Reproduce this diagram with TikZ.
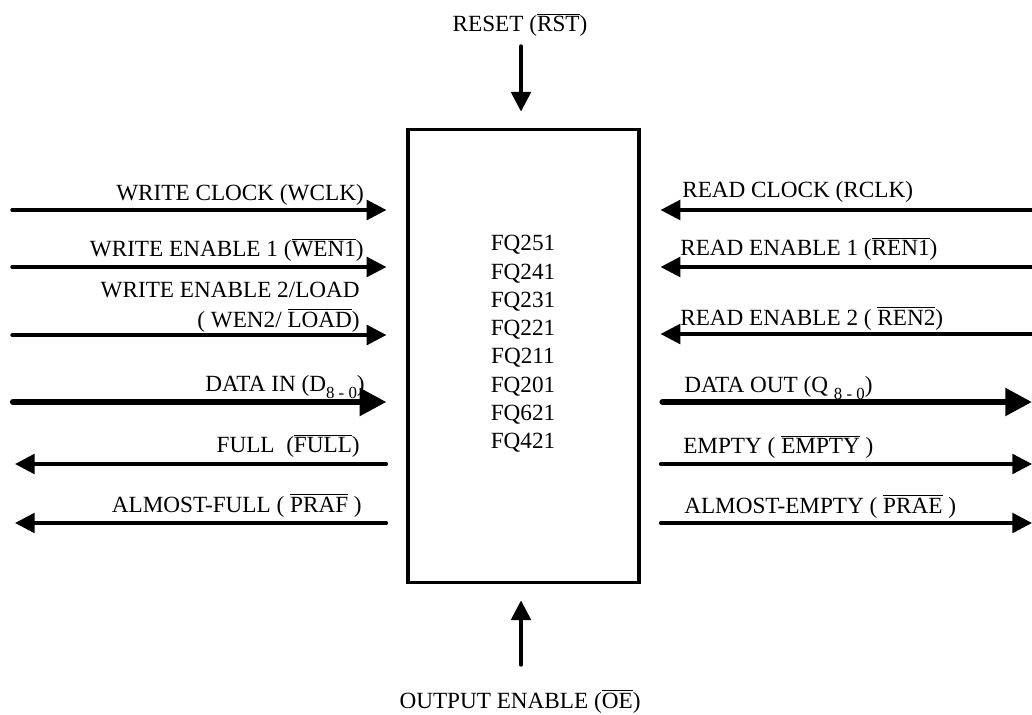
\documentclass[tikz,border=0pt]{standalone}
\usepackage{fontspec}
\setmainfont{Liberation Serif}
\usetikzlibrary{arrows.meta}
\tikzstyle{chip} = [rectangle, draw, line width=2.2pt, inner sep=0pt,
    minimum width=5.775cm, minimum height=11.3cm]
\tikzstyle{line} = [draw, line width=2.4pt, line cap=round, -{Triangle[length=14pt,width=14pt]}]
\tikzstyle{bus} = [draw, line width=4.4pt, line cap=round, -{Triangle[length=19pt,width=19pt]}]
\tikzstyle{sig} = [font=\fontsize{16.5}{20.6}\selectfont, inner sep=0pt]
\newcommand{\ovl}[1]{$\overline{\mbox{#1}}$}
\newcommand{\busidx}[1]{\raisebox{-5pt}{\fontsize{12}{12}\selectfont #1}}

\begin{document}
\begin{tikzpicture}[x=0.025cm, y=-0.025cm]
		\useasboundingbox (0,0) rectangle (1032,715);
		\node [chip] (fifo) at (523.5,356) {};
		\node [sig, align=center, font=\fontsize{16.5}{20.1}\selectfont] (parts) at (523,344)
			{FQ251\\FQ241\\FQ231\\FQ221\\FQ211\\FQ201\\FQ621\\FQ421};
		
		% free ends
		\coordinate (wclk) at (12,210);
		\coordinate (wenone) at (12,267);
		\coordinate (wentwo) at (12,335);
		\coordinate (din) at (13,402);
		\coordinate (full) at (15,464);
		\coordinate (praf) at (15,523);
		\coordinate (rclk) at (1040,210);
		\coordinate (renone) at (1040,267);
		\coordinate (rentwo) at (1040,334);
		\coordinate (dout) at (1032,402);
		\coordinate (empty) at (1032,464);
		\coordinate (prae) at (1032,523);
		\coordinate (rst) at (521,46);
		\coordinate (oe) at (521,665);
		
		% write side
		\path [line, shorten >=0.5cm] (wclk) -- (wclk -| fifo.west);
		\path [line, shorten >=0.5cm] (wenone) -- (wenone -| fifo.west);
		\path [line, shorten >=0.5cm] (wentwo) -- (wentwo -| fifo.west);
		\path [bus, shorten >=0.5cm] (din) -- (din -| fifo.west);
		\path [line, shorten <=0.5cm] (full -| fifo.west) -- (full);
		\path [line, shorten <=0.5cm] (praf -| fifo.west) -- (praf);
		
		% read side
		\path [line, shorten >=0.5cm] (rclk) -- (rclk -| fifo.east);
		\path [line, shorten >=0.5cm] (renone) -- (renone -| fifo.east);
		\path [line, shorten >=0.5cm] (rentwo) -- (rentwo -| fifo.east);
		\path [bus, shorten <=0.55cm] (dout -| fifo.east) -- (dout);
		\path [line, shorten <=0.5cm] (empty -| fifo.east) -- (empty);
		\path [line, shorten <=0.5cm] (prae -| fifo.east) -- (prae);
		
		% top and bottom
		\path [line, shorten >=0.42cm] (rst) -- (rst |- fifo.north);
		\path [line, shorten >=0.42cm] (oe) -- (oe |- fifo.south);
		
		% labels
		\node [sig, anchor=base east] (wclklbl) at (364,201) {WRITE CLOCK (WCLK)};
		\node [sig, anchor=base east] (wenonelbl) at (364,257) {WRITE ENABLE 1 (\ovl{WEN1})};
		\node [sig, anchor=base east] (wentwolbla) at (360,298) {WRITE ENABLE 2/LOAD};
		\node [sig, anchor=base east] (wentwolblb) at (360,327) {( WEN2/ \ovl{LOAD})};
		\node [sig, anchor=base east] (dinlbl) at (365,391) {DATA IN (D\busidx{8 - 0})};
		\node [sig, anchor=base east] (fulllbl) at (360,452) {FULL\ \ (\ovl{FULL})};
		\node [sig, anchor=base east] (praflbl) at (362,512) {ALMOST-FULL ( \ovl{PRAF} )};
		\node [sig, anchor=base west] (rclklbl) at (682,198) {READ CLOCK (RCLK)};
		\node [sig, anchor=base west] (renonelbl) at (680,256) {READ ENABLE 1 (\ovl{REN1})};
		\node [sig, anchor=base west] (rentwolbl) at (680,325) {READ ENABLE 2 ( \ovl{REN2})};
		\node [sig, anchor=base west] (doutlbl) at (684,392) {DATA OUT (Q \busidx{8 - 0})};
		\node [sig, anchor=base west] (emptylbl) at (683,453) {EMPTY ( \ovl{EMPTY} )};
		\node [sig, anchor=base west] (praelbl) at (684,513) {ALMOST-EMPTY ( \ovl{PRAE} )};
		\node [sig, anchor=base] (rstlbl) at (520,32) {RESET (\ovl{RST})};
		\node [sig, anchor=base] (oelbl) at (520,708) {OUTPUT ENABLE (\ovl{OE})};
	\end{tikzpicture}
\end{document}
